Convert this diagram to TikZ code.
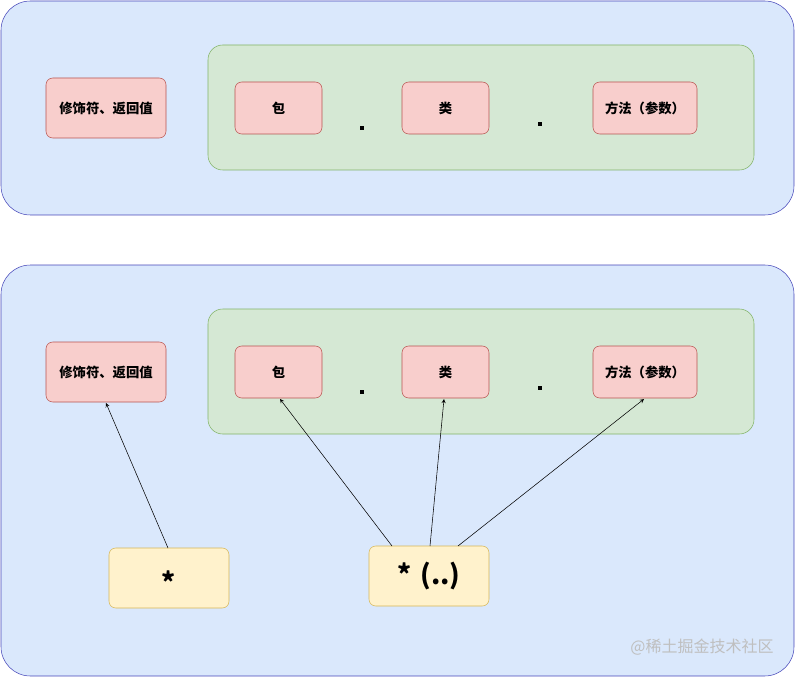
\documentclass[tikz,border=0pt]{standalone}
\usepackage{fontspec}
\setmainfont{Noto Sans CJK SC}
\begin{document}
\begin{tikzpicture}[x=0.75pt,y=-0.75pt,
 outer/.style={draw=blue!45!gray,fill={rgb,255:red,218;green,232;blue,252},rounded corners=22pt},
 grn/.style={draw={rgb,255:red,130;green,179;blue,102},fill={rgb,255:red,213;green,232;blue,212},rounded corners=11pt},
 red/.style={draw={rgb,255:red,184;green,84;blue,80},fill={rgb,255:red,248;green,206;blue,204},rounded corners=5pt,font=\bfseries\fontsize{10}{12}\selectfont},
 yel/.style={draw={rgb,255:red,214;green,182;blue,86},fill={rgb,255:red,255;green,242;blue,204},rounded corners=5pt,font=\bfseries\fontsize{20}{24}\selectfont},
 dot/.style={fill=black,minimum size=3.5pt,inner sep=0pt},
 arr/.style={-stealth,thin}]
\useasboundingbox (0,0) rectangle (795,677);
\draw[outer] (1,1) rectangle (794,215);
\draw[outer] (1,265) rectangle (794,676);
\foreach \o in {0,264}{
 \draw[grn] (208,45+\o) rectangle (754,170+\o);
}
\foreach \o/\s in {0/a,264/b}{
 \draw[red] (46,78+\o) rectangle (166,138+\o) node[midway] (m\s) {修饰符、返回值};
 \draw[red] (235,82+\o) rectangle (322,134+\o) node[midway] (p\s) {包};
 \draw[red] (402,82+\o) rectangle (489,134+\o) node[midway] (c\s) {类};
 \draw[red] (593,82+\o) rectangle (697,134+\o) node[midway] (f\s) {方法（参数）};
 \node[dot] (d1\s) at (362,128+\o) {};
 \node[dot] (d2\s) at (540,124+\o) {};
}
\draw[yel] (109,548) rectangle (229,608) node[midway,yshift=-3pt] (s1) {*};
\draw[yel] (369,546) rectangle (489,606) node[midway] (s2) {*\,\,(..)};
\coordinate (mt) at (106,403); \coordinate (pt) at (280,399);
\coordinate (ct) at (444,399); \coordinate (ft) at (644,399);
\coordinate (s1a) at (168,548); \coordinate (s2a) at (392,546);
\coordinate (s2b) at (430,546); \coordinate (s2c) at (458,546);
\draw[arr] (s1a) -- (mt);
\draw[arr] (s2a) -- (pt);
\draw[arr] (s2b) -- (ct);
\draw[arr] (s2c) -- (ft);
\node[text=white!50!gray,font=\fontsize{12}{14}\selectfont] (wm) at (702,647) {@稀土掘金技术社区};
\end{tikzpicture}
\end{document}
